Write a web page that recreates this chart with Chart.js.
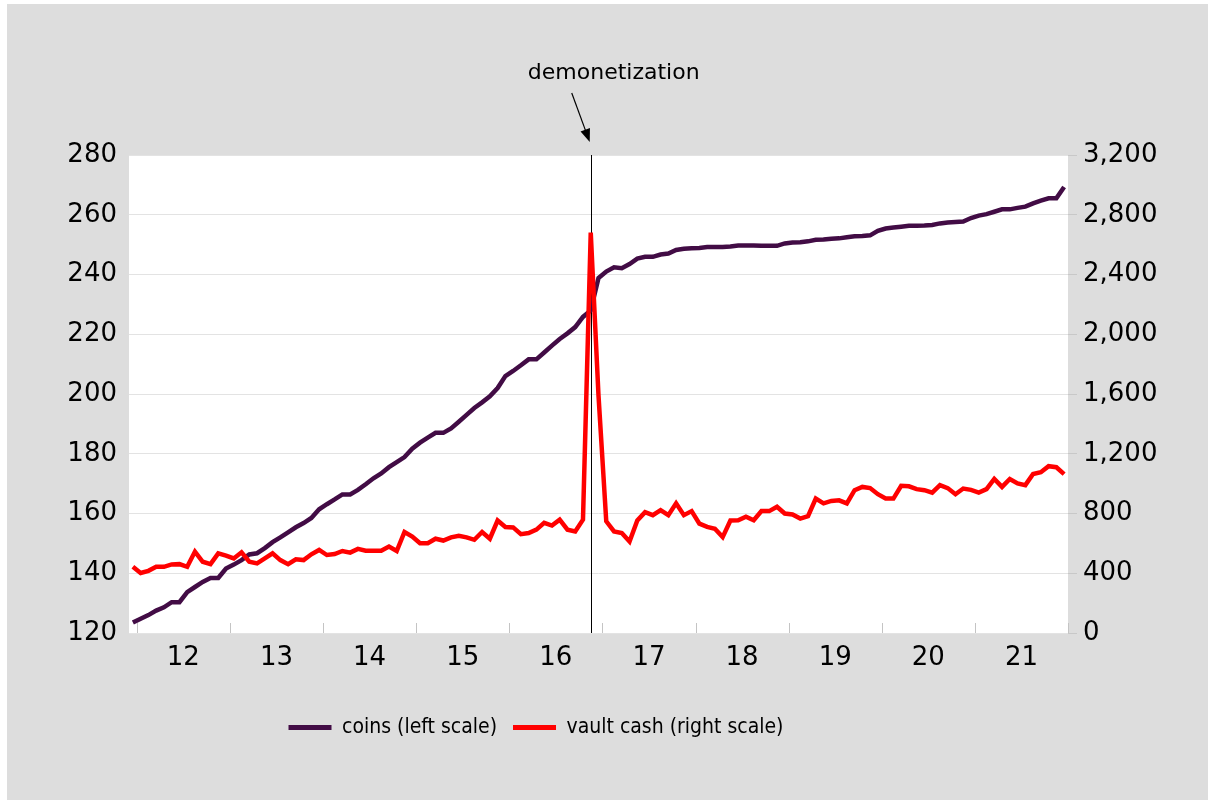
<!DOCTYPE html>
<html>
<head>
<meta charset="utf-8">
<script src="https://cdn.jsdelivr.net/npm/chart.js@4.4.0/dist/chart.umd.min.js"></script>
<style>
  html, body { margin: 0; padding: 0; background: #fff; }
  #panel { position: absolute; left: 7px; top: 4px; width: 1201px; height: 796px; background: #dddddd; }
  #wrap { position: absolute; left: 0; top: 0; width: 1208px; height: 800px; }
</style>
</head>
<body>
<div id="panel"></div>
<div id="wrap"><canvas id="chart"></canvas></div>
<script>
// monthly, Dec 2011 .. Dec 2021 (121 months)
const yearLabels = ['12', '13', '14', '15', '16', '17', '18', '19', '20', '21'];

const coins = [
  123.5, 124.8, 126, 127.5, 128.6, 130.3, 130.3, 133.7, 135.4, 137.1,
  138.4, 138.4, 141.6, 142.9, 144.4, 146.3, 146.7, 148.4, 150.4, 152,
  153.7, 155.4, 156.8, 158.5, 161.4, 163.1, 164.7, 166.4, 166.4, 167.9,
  169.8, 171.8, 173.4, 175.5, 177.2, 178.9, 181.7, 183.7, 185.4, 187,
  187, 188.5, 190.7, 193, 195.3, 197.2, 199.2, 202, 206, 207.7,
  209.6, 211.6, 211.6, 213.9, 216.2, 218.4, 220.3, 222.4, 225.8, 228,
  238.8, 241, 242.4, 242.1, 243.5, 245.3, 245.9, 245.9, 246.7, 247,
  248.2, 248.6, 248.8, 248.9, 249.2, 249.2, 249.2, 249.4, 249.7, 249.7,
  249.7, 249.6, 249.6, 249.6, 250.4, 250.7, 250.8, 251.1, 251.6, 251.7,
  252, 252.1, 252.5, 252.8, 252.9, 253.1, 254.6, 255.4, 255.7, 256,
  256.3, 256.3, 256.4, 256.6, 257.1, 257.4, 257.6, 257.7, 258.9, 259.7,
  260.2, 261, 261.8, 261.8, 262.3, 262.7, 263.8, 264.7, 265.5, 265.5, 269.3
];

const vaultCash = [
  443, 402, 416, 443, 443, 459, 461, 443, 545, 477,
  461, 533, 518, 499, 540, 477, 466, 499, 533, 488,
  461, 493, 488, 527, 556, 522, 529, 549, 538, 563,
  551, 551, 551, 579, 549, 676, 646, 601, 601, 631,
  619, 640, 651, 640, 624, 676, 631, 753, 710, 707,
  662, 669, 692, 737, 719, 759, 692, 680, 759, 2680,
  1590, 748, 680, 669, 612, 753, 809, 789, 823, 789,
  868, 789, 816, 732, 710, 698, 642, 753, 755, 778,
  755, 816, 816, 845, 800, 793, 766, 782, 900, 868,
  884, 888, 868, 956, 978, 970, 929, 900, 900, 985,
  982, 963, 956, 940, 990, 970, 929, 967, 958, 940,
  963, 1031, 978, 1031, 1001, 990, 1064, 1076, 1117, 1110, 1064
];

const demonetizationMonth = 59; // Nov 2016
const FONT = 'DejaVu Sans';
const LEGEND_FONT = "'DejaVu Sans Condensed', 'Liberation Sans', sans-serif";

// white plot area, year tick marks, demonetization marker
const decorations = {
  id: 'decorations',
  afterLayout(chart) {
    // legend sits left of centre in the original
    chart.legend.left -= 68;
    chart.legend.right -= 68;
  },
  beforeDraw(chart) {
    const { ctx, chartArea: a } = chart;
    ctx.save();
    ctx.fillStyle = '#ffffff';
    ctx.fillRect(a.left, a.top, a.right - a.left, a.bottom - a.top);
    ctx.restore();
  },
  beforeDatasetsDraw(chart) {
    const { ctx, chartArea: a } = chart;
    const x = chart.scales.x;
    ctx.save();
    ctx.lineWidth = 1;
    ctx.strokeStyle = '#c4c4c4';
    for (let k = 0; k <= yearLabels.length; k++) {
      const px = Math.round(x.getPixelForValue(0.5 + 12 * k)) + 0.5;
      ctx.beginPath();
      ctx.moveTo(px, a.bottom);
      ctx.lineTo(px, a.bottom - 10);
      ctx.stroke();
    }
    const dx = Math.round(x.getPixelForValue(demonetizationMonth)) + 0.5;
    ctx.strokeStyle = '#000';
    ctx.beginPath();
    ctx.moveTo(dx, a.top);
    ctx.lineTo(dx, a.bottom);
    ctx.stroke();
    ctx.restore();
  },
  afterDraw(chart) {
    const { ctx, chartArea: a } = chart;
    const dx = chart.scales.x.getPixelForValue(demonetizationMonth);
    ctx.save();
    ctx.fillStyle = '#000';
    ctx.strokeStyle = '#000';
    ctx.font = '22px "' + FONT + '"';
    ctx.textAlign = 'center';
    ctx.textBaseline = 'middle';
    ctx.fillText('demonetization', dx + 23, a.top - 82);
    // arrow
    const x0 = dx - 19, y0 = a.top - 62, x1 = dx - 1, y1 = a.top - 13;
    const ang = Math.atan2(y1 - y0, x1 - x0);
    ctx.lineWidth = 1.2;
    ctx.beginPath();
    ctx.moveTo(x0, y0);
    ctx.lineTo(x1 - 10 * Math.cos(ang), y1 - 10 * Math.sin(ang));
    ctx.stroke();
    ctx.beginPath();
    ctx.moveTo(x1, y1);
    ctx.lineTo(x1 - 13 * Math.cos(ang) + 5 * Math.sin(ang), y1 - 13 * Math.sin(ang) - 5 * Math.cos(ang));
    ctx.lineTo(x1 - 13 * Math.cos(ang) - 5 * Math.sin(ang), y1 - 13 * Math.sin(ang) + 5 * Math.cos(ang));
    ctx.closePath();
    ctx.fill();
    ctx.restore();
  }
};

const config = {
  type: 'line',
  data: {
    datasets: [{
      label: 'coins (left scale)',
      data: coins.map((v, i) => ({ x: i, y: v })),
      yAxisID: 'y',
      borderColor: '#420c45',
      backgroundColor: '#420c45',
      borderWidth: 4.5,
      pointRadius: 0,
      tension: 0,
      order: 1
    }, {
      label: 'vault cash (right scale)',
      data: vaultCash.map((v, i) => ({ x: i, y: v })),
      yAxisID: 'y1',
      borderColor: '#ff0000',
      backgroundColor: '#ff0000',
      borderWidth: 4.5,
      pointRadius: 0,
      tension: 0,
      order: 0
    }]
  },
  options: {
    responsive: true,
    maintainAspectRatio: false,
    animation: false,
    layout: { padding: { top: 155, left: 0, right: 0, bottom: 52 } },
    scales: {
      x: {
        type: 'linear',
        min: -0.5,
        max: 120.5,
        grid: { display: false, drawTicks: false },
        border: { display: false },
        afterBuildTicks: (s) => { s.ticks = yearLabels.map((_, k) => ({ value: 6.5 + 12 * k })); },
        afterFit: (s) => { s.height = 68; },
        ticks: {
          autoSkip: false,
          maxRotation: 0,
          padding: 10,
          color: '#000',
          font: { family: FONT, size: 26 },
          callback: (v, i) => yearLabels[i]
        }
      },
      y: {
        position: 'left',
        min: 120,
        max: 280,
        grid: { color: '#e3e3e3', drawTicks: false },
        border: { display: false },
        afterFit: (s) => { s.width = 129; },
        ticks: { stepSize: 20, padding: 12, color: '#000', font: { family: FONT, size: 26 } }
      },
      y1: {
        position: 'right',
        min: 0,
        max: 3200,
        grid: { drawOnChartArea: false, tickLength: 9, tickColor: '#c8c8c8' },
        border: { display: false },
        afterFit: (s) => { s.width = 140; },
        ticks: {
          stepSize: 400,
          padding: 6,
          color: '#000',
          font: { family: FONT, size: 26 },
          callback: (v) => v.toLocaleString('en-US')
        }
      }
    },
    plugins: {
      legend: {
        position: 'bottom',
        labels: {
          boxWidth: 43,
          boxHeight: 5,
          padding: 16,
          color: '#000',
          font: { family: LEGEND_FONT, size: 21 },
          generateLabels: (c) => Chart.defaults.plugins.legend.labels.generateLabels(c)
            .map((item) => Object.assign(item, { lineWidth: 0 })),
          sort: (a, b) => a.datasetIndex - b.datasetIndex
        }
      },
      tooltip: { enabled: false }
    }
  },
  plugins: [decorations]
};

const chart = new Chart(document.getElementById('chart'), config);
</script>
</body>
</html>
